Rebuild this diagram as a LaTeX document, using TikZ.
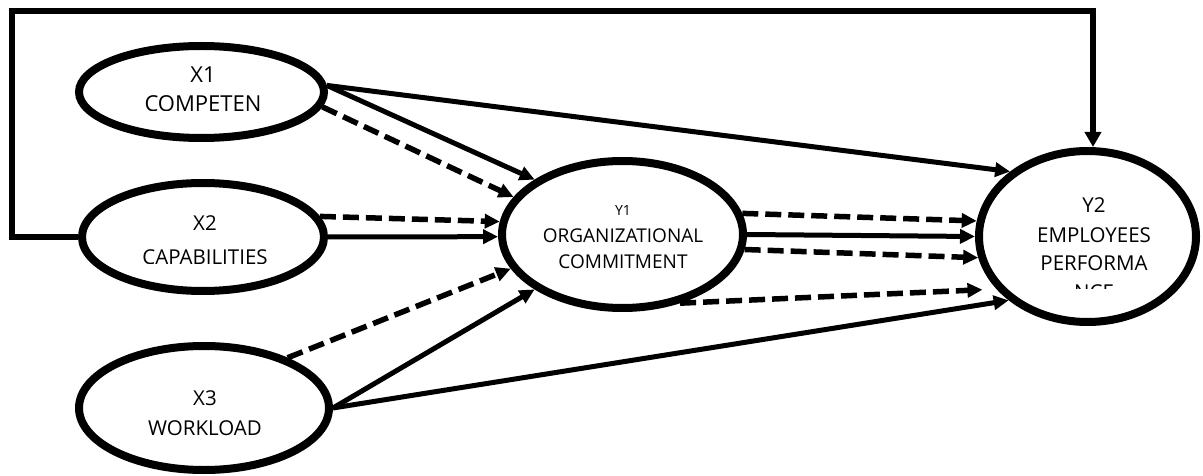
\documentclass[tikz,border=0pt]{standalone}
\usepackage{fontspec}
\setmainfont{Open Sans}
\usetikzlibrary{arrows.meta,shapes.geometric}
\begin{document}
\begin{tikzpicture}[x=1pt,y=-1pt,
  latent/.style={ellipse,draw,line width=8pt,inner sep=0pt,fill=white},
  lbl/.style={inner sep=0pt,anchor=base,font=\fontsize{20.5}{20.5}\selectfont},
  lblb/.style={inner sep=0pt,anchor=base,font=\fontsize{22}{22}\selectfont},
  lblm/.style={inner sep=0pt,anchor=base,font=\fontsize{19}{19}\selectfont},
  lbls/.style={inner sep=0pt,anchor=base,font=\fontsize{14}{14}\selectfont},
  tip/.style={-{Triangle[length=15pt,width=14pt]}},
  solidarr/.style={tip,line width=5pt},
  dasharr/.style={tip,line width=5.5pt,dash pattern=on 16pt off 7pt},
  fbline/.style={line width=5.5pt,-{Triangle[length=15pt,width=16pt]}}]
\useasboundingbox (0,0) rectangle (1203,476);
% ellipses
\node[latent,minimum width=245pt,minimum height=92pt] (X1) at (201.5,92) {};
\node[latent,minimum width=242pt,minimum height=108pt] (X2) at (203,237) {};
\node[latent,minimum width=250pt,minimum height=124pt] (X3) at (204,408) {};
\node[latent,minimum width=241pt,minimum height=147pt] (Y1) at (622.5,234.5) {};
\node[latent,minimum width=217pt,minimum height=171pt] (Y2) at (1087.5,236.5) {};
% texts
\begin{scope}
\clip (80,50) rectangle (330,111);
\node[lblb] (x1a) at (203,83) {X1};
\node[lblb] (x1b) at (203,112) {COMPETEN};
\end{scope}
\begin{scope}
\clip (80,190) rectangle (330,263);
\node[lbl] (x2a) at (205,230) {X2};
\node[lbl] (x2b) at (205,264) {CAPABILITIES};
\end{scope}
\node[lbl] (x3a) at (205,405) {X3};
\node[lbl] (x3b) at (205,435) {WORKLOAD};
\node[lbls] (y1a) at (623,215) {Y1};
\node[lblm] (y1b) at (623,242) {ORGANIZATIONAL};
\node[lblm] (y1c) at (623,268) {COMMITMENT};
\begin{scope}
\clip (980,160) rectangle (1200,288);
\node[lbl] (y2a) at (1094,212) {Y2};
\node[lbl] (y2b) at (1094,242) {EMPLOYEES};
\node[lbl] (y2c) at (1094,270) {PERFORMA};
\node[lbl] (y2d) at (1094,299) {NCE};
\end{scope}
% connectors from X1
\draw[solidarr] (X1.3.1) -- (Y2.140.9);
\draw[solidarr] (X1.3.1) -- (Y1.148.1);
\draw[dasharr] (X1.-7.1) -- (Y1.161.6);
% from X2
\draw[dasharr] (X2.10.5) -- (Y1.174.2);
\draw[solidarr] (X2.0) -- (Y1.181.2);
% from X3
\draw[dasharr] (X3.31.4) -- (Y1.197.2);
\draw[solidarr] (X3.0) -- (Y1.212);
\draw[solidarr] (X3.0) -- (Y2.219.8);
% from Y1 to Y2
\draw[dasharr] (Y1.10.1) -- (Y2.172.8);
\draw[solidarr] (Y1.0) -- (Y2.180);
\draw[dasharr] (Y1.-7.1) -- (Y2.191);
\draw[dasharr,shorten >=14pt] (Y1.-50) -- (Y2.210);
% feedback loop
\coordinate (fbL) at (12,11);
\coordinate (fbR) at (1093,11);
\draw[fbline] (X2.180) -| (fbL) -- (fbR) -- (fbR |- Y2.north);
\end{tikzpicture}
\end{document}
